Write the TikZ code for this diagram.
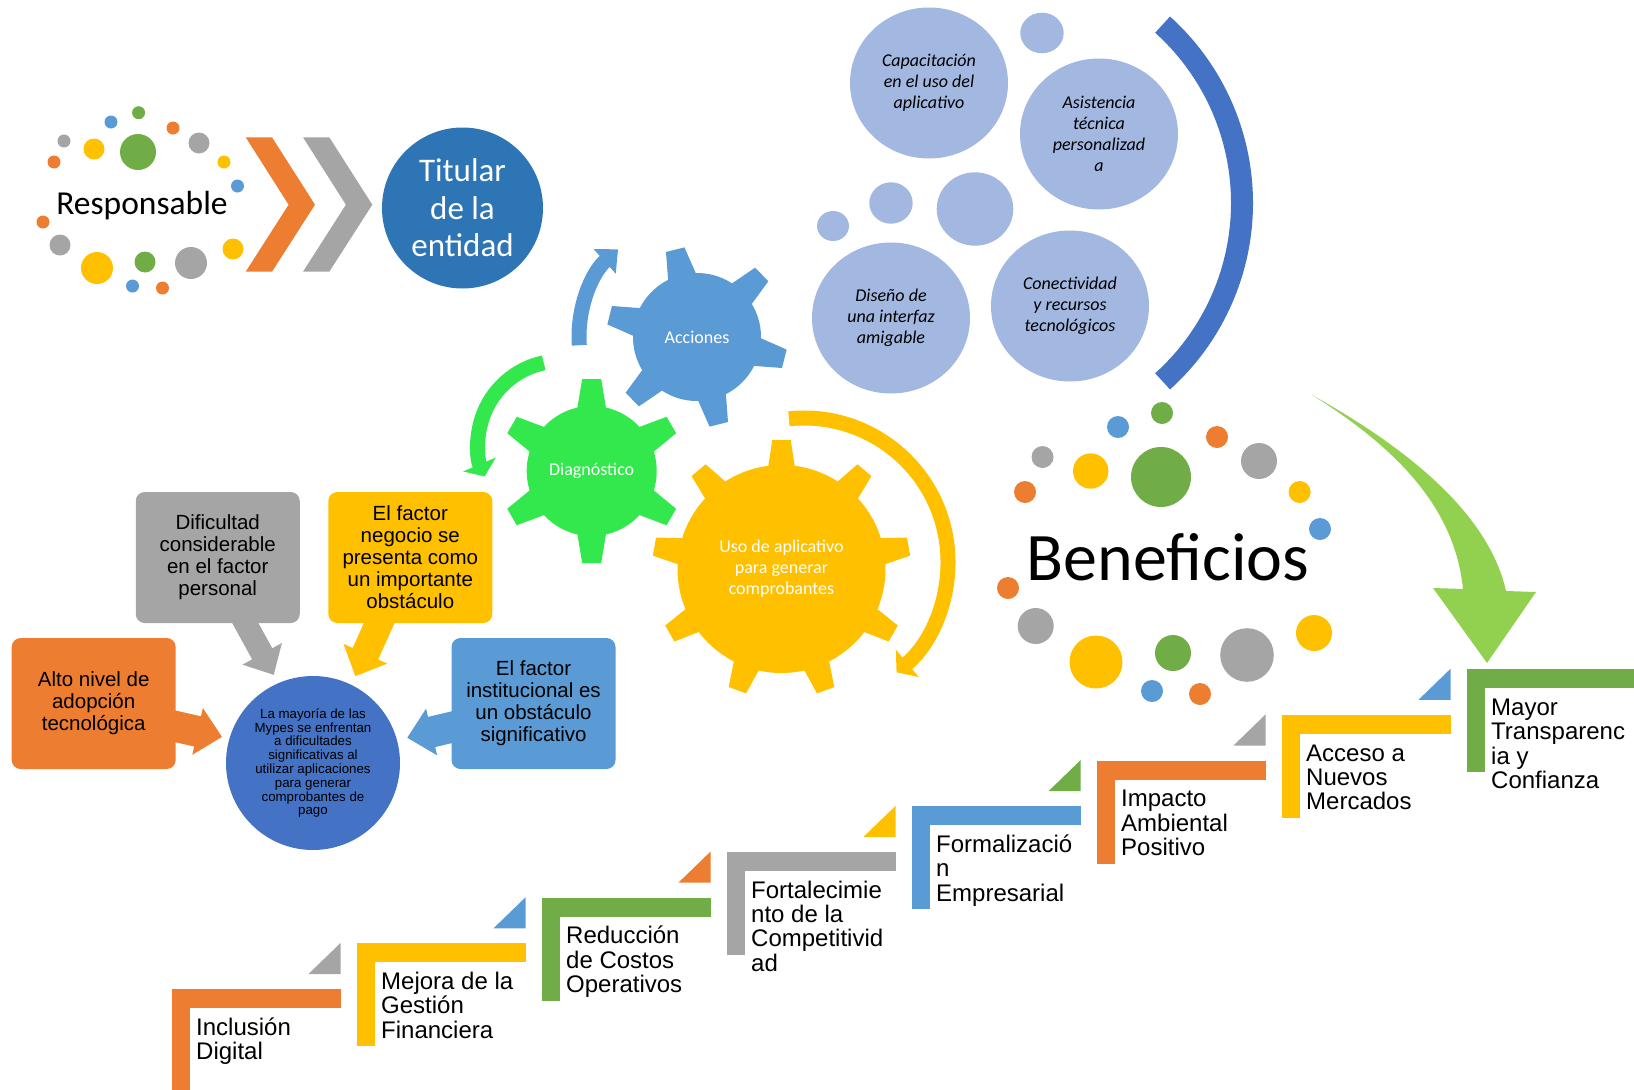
\documentclass[tikz,border=0pt]{standalone}
\usepackage{fontspec}
\setmainfont{Carlito}
\newfontfamily\arialfont{Liberation Sans}
\usetikzlibrary{arrows.meta,shapes.geometric,calc,backgrounds}
\definecolor{morange}{HTML}{ED7D31}
\definecolor{mgray}{HTML}{A5A5A5}
\definecolor{myellow}{HTML}{FFC000}
\definecolor{mblue}{HTML}{5B9BD5}
\definecolor{mgreen}{HTML}{70AD47}
\definecolor{dblue}{HTML}{4472C4}
\definecolor{tblue}{HTML}{2E75B6}
\definecolor{bubblue}{HTML}{A2B8E1}
\definecolor{gearlime}{HTML}{32E84C}
\definecolor{arrowlime}{HTML}{92D050}
\tikzset{x=1pt,y=-1pt,
  box/.style={rounded corners=9pt,minimum width=164pt,minimum height=131pt,inner sep=0pt,align=center,font=\arialfont\fontsize{20.5}{22}\selectfont},
  bubble/.style={ellipse,fill=bubblue,minimum width=158pt,minimum height=151pt,inner sep=0pt,align=center,font=\itshape\fontsize{18}{21}\selectfont},
  geartext/.style={text=white,align=center,font=\fontsize{18}{21}\selectfont},
  steptext/.style={anchor=north west,inner sep=0pt,align=left,font=\arialfont\fontsize{24}{24.4}\selectfont},
  spin/.style={line width=15pt}}
\newcommand{\gearwheel}[7]{%
  \fill[#1] (#2) circle[radius=#3pt];
  \foreach \ga in {#7}
    \fill[#1,shift={(#2)},rotate=\ga] (#3-6,-#5) -- (#4,-#6) -- (#4,#6) -- (#3-6,#5) -- cycle;}
\newcommand{\blkarrow}[6]{%
  \coordinate (ba-s) at (#2); \coordinate (ba-t) at (#3);
  \coordinate (ba-h) at ($(ba-t)!#6pt!(ba-s)$);
  \fill[#1] ($(ba-s)!#4pt!90:(ba-t)$) -- ($(ba-h)!#4pt!90:(ba-t)$) -- ($(ba-h)!#5pt!90:(ba-t)$)
    -- (ba-t) -- ($(ba-h)!#5pt!-90:(ba-t)$) -- ($(ba-h)!#4pt!-90:(ba-t)$) -- ($(ba-s)!#4pt!-90:(ba-t)$) -- cycle;}
\begin{document}
\begin{tikzpicture}
\useasboundingbox (0,0) rectangle (1634,1090);

% responsable
\foreach \dx/\dy/\dr/\dc in {138.6/112.7/6.5/mgreen,111/122/6.5/mblue,173/128/6.5/morange,64/141/6.5/mgray,
  94/149/10.5/myellow,138/152/18/mgreen,199/143/10.5/mgray,54/162/6.5/morange,224/162/6.5/myellow,
  237.5/186/6.5/mblue,43/222/6.5/morange,60/245/10.5/mgray,97/268/16/myellow,145/262/10.5/mgreen,
  191/263/16/mgray,233/249/10.5/myellow,132.5/286/6.5/mblue,162.5/288/6.5/morange}
  \fill[\dc] (\dx,\dy) circle[radius=\dr pt];
\node[anchor=base,font=\fontsize{33.5}{36}\selectfont] (resp) at (142,214) {Responsable};
\foreach \sh/\cc in {0/morange,57.3/mgray}
  \fill[\cc,xshift=\sh pt] (245.7,137.3) -- (272,137.3) -- (315,204.7) -- (272,271.7) -- (245.7,271.7) -- (288.6,204.7) -- cycle;
\node[circle,fill=tblue,minimum size=161pt,inner sep=0pt,text=white,align=center,font=\fontsize{33}{37.5}\selectfont] (titular) at (462.5,208) {Titular\\de la\\entidad};

% engranajes
\gearwheel{mblue}{697,337}{64}{90}{15}{9.5}{104,44,-14,-76,-136,166}
\gearwheel{gearlime}{591.7,471}{65}{92}{15}{9.5}{90,30,-30,-90,-150,150}
\gearwheel{myellow}{781.5,569}{104}{129}{14}{9.2}{10,50,...,330}
\node[geartext] (acc) at (697,337) {Acciones};
\node[geartext] (diag) at (591.7,471) {Diagnóstico};
\node[geartext] (uso) at (781.5,569) {Uso de aplicativo\\para generar\\comprobantes};
\draw[spin,mblue,-{Triangle[width=32pt,length=18pt]}] ($(acc.center)+(184:118pt)$) arc[start angle=184,end angle=132,radius=118pt];
\draw[spin,gearlime,-{Triangle[width=35pt,length=13pt]}] ($(561,444)+(102:83pt)$) arc[start angle=102,end angle=203,radius=83pt];
\draw[spin,myellow,-{Triangle[width=35pt,length=14pt]}] ($(804,562)+(96:144pt)$) arc[start angle=96,end angle=-50,radius=144pt];

% acciones de mejora
\fill[bubblue] (1042,33) ellipse[x radius=21.7pt,y radius=20.3pt];
\fill[bubblue] (833,226) ellipse[x radius=16pt,y radius=15pt];
\fill[bubblue] (891,203) ellipse[x radius=21.7pt,y radius=20.7pt];
\fill[bubblue] (975,209) ellipse[x radius=38.3pt,y radius=36.7pt];
\node[bubble] (cap) at (929,83) {Capacitación\\en el uso del\\aplicativo};
\node[bubble] (asist) at (1099,134) {Asistencia\\técnica\\personalizad\\a};
\node[bubble] (diseno) at (891,318) {Diseño de\\una interfaz\\amigable};
\node[bubble] (conect) at (1070,306) {Conectividad\\y recursos\\tecnológicos};
\draw[line width=22pt,dblue] ($(1002,203)+(48:240pt)$) arc[start angle=48,end angle=-48,radius=240pt];

% beneficios
\foreach \dx/\dy/\dr/\dc in {1162/413/11/mgreen,1118/427/11/mblue,1217/437/11/morange,1042.5/457/11/mgray,
  1090.7/471/17.7/myellow,1161/477/30/mgreen,1259/461/18/mgray,1025/492/11/morange,1299.6/492/11/myellow,
  1320/529/11/mblue,1008/588/11/morange,1035.7/626/18/mgray,1096/662/26.5/myellow,1173/653/18/mgreen,
  1247/655/26.8/mgray,1314/633/18/myellow,1152/691/11/mblue,1200/694/11/morange}
  \fill[\dc] (\dx,\dy) circle[radius=\dr pt];
\node[anchor=base,font=\fontsize{68}{72}\selectfont] (benef) at (1168,580) {Beneficios};
\fill[arrowlime] (1312,395) .. controls (1420,455) and (1490,520) .. (1506,591) -- (1536,592) -- (1487,663)
  -- (1433,588) -- (1463,589) .. controls (1455,510) and (1400,450) .. (1312,395) -- cycle;

% factores
\node[box,fill=mgray] (dif) at (217.75,557.5) {Dificultad\\considerable\\en el factor\\personal};
\node[box,fill=myellow] (neg) at (410.3,557.5) {El factor\\negocio se\\presenta como\\un importante\\obstáculo};
\node[box,fill=morange] (alto) at (93.7,703.5) {Alto nivel de\\adopción\\tecnológica};
\node[box,fill=mblue] (inst) at (533.5,703.5) {El factor\\institucional es\\un obstáculo\\significativo};
\node[circle,fill=dblue,minimum size=174pt,inner sep=0pt,align=center,font=\arialfont\fontsize{13.3}{13.8}\selectfont] (mypes) at (313,763)
  {La mayoría de las\\Mypes se enfrentan\\a dificultades\\significativas al\\utilizar aplicaciones\\para generar\\comprobantes de\\pago};
\begin{scope}[on background layer]
\blkarrow{mgray}{$(dif.south)+(20.5,-13)$}{$(mypes.center)!96.5pt!(mypes.114)$}{11.5}{22.5}{24}
\blkarrow{myellow}{$(neg.south)+(-25.3,-13)$}{$(mypes.center)!96.6pt!(mypes.64.7)$}{14}{24}{24.6}
\blkarrow{morange}{$(alto.east)+(-11,20.5)$}{$(mypes.center)!94.7pt!(mypes.164.5)$}{15.5}{24}{25}
\blkarrow{mblue}{$(inst.west)+(14,20.5)$}{$(mypes.center)!97.6pt!(mypes.15)$}{15.5}{24}{25}
\end{scope}

% escalera
\foreach \i/\sc/\tc/\txt in {0/morange/mgray/{Inclusión\\Digital},1/myellow/mblue/{Mejora de la\\Gestión\\Financiera},
  2/mgreen/morange/{Reducción\\de Costos\\Operativos},3/mgray/myellow/{Fortalecimie\\nto de la\\Competitivid\\ad},
  4/mblue/mgreen/{Formalizació\\n\\Empresarial},5/morange/mgray/{Impacto\\Ambiental\\Positivo},
  6/myellow/mblue/{Acceso a\\Nuevos\\Mercados},7/mgreen/mgreen/{Mayor\\Transparenc\\ia y\\Confianza}}
{
  \pgfmathsetmacro{\sx}{171.5+185*\i}
  \pgfmathsetmacro{\sy}{989-45.7*\i}
  \fill[\sc] (\sx,\sy) rectangle ++(169,19);
  \fill[\sc] (\sx,\sy) rectangle ++(18.5,103);
  \ifnum\i<7 \fill[\tc] (\sx+137,\sy-15) -- ++(32,0) -- ++(0,-31) -- cycle; \fi
  \node[steptext] (s\i) at (\sx+24.5,\sy+28) {\rule{0pt}{18pt}\txt};
}
\end{tikzpicture}
\end{document}
